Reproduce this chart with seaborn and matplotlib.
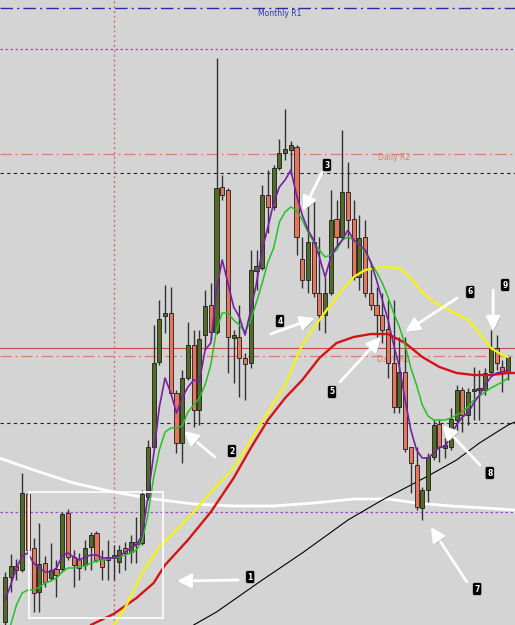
import numpy as np
import pandas as pd
import matplotlib
matplotlib.use("Agg")
import matplotlib.pyplot as plt
import matplotlib.patheffects as pe
from matplotlib.patches import Rectangle
import seaborn as sns

# ---------------- data (price in chart points) ----------------
opens = [3, 48, 59, 55, 131, 77, 33, 62, 47, 56, 56, 112, 68, 66, 60, 78, 92, 66, 65, 67,
         63, 77, 73, 83, 82, 128, 178, 263, 309, 312, 232, 182, 247, 280, 215, 290, 320, 293, 438, 435,
         287, 288, 267, 262, 354, 357, 430, 418, 457, 472, 475, 478, 366, 345, 383, 332, 310, 332, 406, 388,
         433, 406, 348, 388, 332, 320, 310, 296, 262, 218, 253, 178, 160, 117, 135, 168, 201, 177, 178, 205,
         235, 210, 234, 235, 235, 253, 277, 258, 253]
highs = [53, 71, 66, 152, 133, 87, 102, 69, 82, 65, 113, 116, 75, 72, 85, 93, 94, 75, 85, 80,
         80, 83, 90, 108, 135, 185, 300, 325, 340, 338, 235, 255, 303, 295, 295, 335, 342, 567, 450, 437,
         295, 320, 272, 375, 375, 440, 455, 460, 486, 516, 484, 480, 388, 428, 425, 388, 348, 435, 425, 495,
         463, 425, 410, 405, 362, 338, 332, 325, 325, 288, 288, 178, 178, 138, 172, 205, 205, 187, 217, 240,
         238, 237, 258, 255, 257, 295, 290, 265, 270]
lows = [0, 33, 45, 53, 73, 13, 13, 38, 45, 28, 53, 65, 38, 45, 55, 55, 63, 45, 45, 45,
        52, 55, 62, 62, 80, 125, 176, 260, 292, 230, 172, 162, 245, 198, 200, 275, 285, 291, 425, 252,
        242, 228, 225, 257, 335, 355, 392, 415, 455, 465, 450, 370, 337, 332, 328, 295, 292, 330, 378, 385,
        377, 345, 335, 328, 315, 288, 282, 247, 212, 212, 173, 132, 115, 105, 123, 165, 163, 167, 175, 193,
        193, 200, 205, 205, 230, 250, 255, 233, 245]
closes = [48, 59, 55, 132, 75, 32, 61, 43, 55, 50, 111, 68, 60, 57, 77, 90, 65, 58, 68, 70,
          75, 72, 83, 81, 131, 178, 262, 306, 312, 232, 182, 247, 280, 215, 286, 319, 293, 437, 430, 288,
          290, 267, 261, 355, 359, 430, 418, 457, 472, 476, 480, 388, 345, 383, 332, 310, 332, 405, 388, 433,
          405, 348, 387, 332, 320, 310, 295, 262, 218, 253, 176, 162, 118, 135, 168, 200, 178, 180, 206, 235,
          210, 233, 236, 237, 252, 277, 262, 252, 268]

# fast MA (purple), one value per candle 0..88
ma_fast = [25, 40, 57, 69, 72, 62, 57, 53, 53, 57, 69, 72, 68, 65, 68, 70, 70, 67, 67, 67,
           69, 73, 77, 80, 90, 128, 170, 218, 247, 232, 212, 227, 238, 245, 243, 275, 282, 335, 365, 342,
           318, 308, 290, 315, 342, 375, 398, 422, 438, 445, 455, 430, 410, 395, 385, 368, 348, 368, 378, 385,
           395, 385, 380, 375, 363, 345, 325, 305, 280, 258, 225, 195, 175, 167, 167, 172, 178, 178, 190, 200,
           208, 212, 222, 230, 240, 248, 252, 253, 255]
# medium MA (green), candles 1..88
ma_mid = [0, 20, 32, 35, 35, 38, 42, 44, 47, 53, 57, 57, 58, 59, 62, 64, 65, 66, 67, 68,
          70, 72, 75, 84, 110, 147, 175, 193, 197, 197, 199, 213, 220, 227, 240, 260, 295, 312, 312, 305,
          300, 293, 305, 323, 342, 363, 377, 403, 413, 418, 415, 405, 393, 383, 375, 368, 370, 375, 385, 388,
          385, 380, 373, 362, 353, 342, 328, 312, 298, 280, 257, 240, 220, 209, 205, 205, 205, 207, 210, 213,
          218, 225, 229, 233, 237, 240, 243, 247]
# slow MAs sampled at candle indices
yel_idx = [19, 21, 24, 27, 30, 33, 36, 40, 43, 46, 49, 52, 54, 56, 59, 61, 63, 66, 69, 71, 73, 75, 78, 81, 83, 85, 87, 88]
yel_val = [0, 17, 52, 78, 95, 113, 133, 157, 185, 213, 240, 280, 297, 313, 335, 348, 355, 358, 357, 347, 333, 323, 314, 305, 292, 277, 270, 268]
red_idx = [15, 19, 23, 26, 28, 32, 36, 40, 43, 46, 49, 52, 55, 58, 61, 64, 67, 70, 73, 76, 79, 82, 85, 88, 89.2]
red_val = [0, 11, 27, 42, 60, 85, 113, 147, 177, 205, 227, 245, 267, 282, 288, 291, 291, 282, 268, 258, 252, 250, 250, 252, 252]
blk_idx = [33, 37, 40, 45, 52, 60, 63, 66, 70, 74, 79, 83, 88, 89.2]
blk_val = [0, 13, 25, 45, 72, 105, 115, 125, 137, 149, 165, 182, 200, 203]
wht_idx = [-1, 5, 12, 19, 26, 33, 40, 47, 54, 61, 67, 72, 78, 84, 89.2]
wht_val = [167, 155, 142, 133, 126, 121, 119, 119, 122, 126, 126, 122, 119, 117, 115]

# pivot levels
level_names = ["Monthly R1", "", "Daily R2", "", "", "Daily R1", "", ""]
level_vals = [617, 576, 471, 452, 277, 269, 202, 113]

# annotation arrows: (tail_i, tail_p, head_i, head_p, label_i, label_p)
arrow_labels = ["1", "2", "3", "4", "5", "6", "7", "8", "9"]
arrow_tail = [(40.8, 45), (36.7, 168), (55.5, 453), (46.5, 291), (58.6, 243), (79.1, 327), (80.8, 43), (83.1, 160), (85.4, 335)]
arrow_head = [(30.1, 44), (31.3, 194), (52.1, 414), (54.2, 307), (65.8, 288), (70.0, 293), (74.5, 98), (76.5, 200), (85.4, 294)]
label_pos = [(42.9, 48), (39.7, 174), (56.3, 460), (48.1, 304), (57.2, 233), (81.4, 333), (82.6, 36), (84.8, 152), (87.5, 340)]

# ---------------- figure ----------------
sns.set_theme(style="white")
plt.rcParams['font.family'] = ['DejaVu Sans']

BG = '#d4d4d4'
fig = plt.figure(figsize=(5.15, 6.25), dpi=100)
fig.patch.set_facecolor(BG)
ax = fig.add_axes([0, 0, 1, 1])
ax.set_facecolor(BG)
ax.set_xlim(-0.875, 89.22)
ax.set_ylim(0, 625)
for s in ax.spines.values():
    s.set_visible(False)
ax.set_xticks([])
ax.set_yticks([])

dashdot = (0, (9, 3, 1.5, 3))
# levels
ax.axhline(level_vals[0], color='#2c2ca0', ls=dashdot, lw=1.0, zorder=1)
ax.axhline(level_vals[1], color='#9a4cc8', ls=(0, (2, 2)), lw=0.9, zorder=1)
ax.axhline(level_vals[2], color='#e07a6a', ls=dashdot, lw=0.9, zorder=1)
ax.axhline(level_vals[3], color='#222222', ls=(0, (3, 3)), lw=0.8, zorder=1)
ax.axhline(level_vals[4], color='#c84848', lw=0.8, zorder=1)
ax.axhline(level_vals[5], color='#e07a6a', ls=dashdot, lw=0.9, zorder=1)
ax.axhline(level_vals[6], color='#222222', ls=(0, (3, 3)), lw=0.8, zorder=1)
ax.axhline(level_vals[7], color='#9a4cc8', ls=(0, (2, 2)), lw=0.9, zorder=1)
ax.axvline(19.07, color='#d46a78', ls=(0, (1.5, 2)), lw=1.0, zorder=1)

ax.text(48.1, level_vals[0] - 5, level_names[0], color='#3434b0', fontsize=5.5,
        ha='center', va='center', zorder=1)
ax.text(68.1, level_vals[2] - 3, level_names[2], color='#e07a6a', fontsize=5.5,
        ha='center', va='center', zorder=1)
ax.text(67.9, level_vals[5] - 4, level_names[5], color='#e07a6a', fontsize=5.5,
        ha='center', va='center', zorder=1)

# white / black long MAs (behind candles)
sns.lineplot(x=wht_idx, y=wht_val, ax=ax, color='white', lw=2.0, zorder=2)
sns.lineplot(x=blk_idx, y=blk_val, ax=ax, color='black', lw=0.8, zorder=2)

# candles
o = np.array(opens, float); c = np.array(closes, float)
h = np.array(highs, float); l = np.array(lows, float)
idx = np.arange(len(o))
up = c >= o
ax.vlines(idx, l, h, color='#333333', lw=1.0, zorder=3)
body_bot = np.minimum(o, c)
body_h = np.maximum(np.abs(c - o), 1.8)
cols = np.where(up, '#536b26', '#e6755d')
ax.bar(idx, body_h, bottom=body_bot, width=0.72, color=cols, edgecolor='#1c1c1c',
       linewidth=0.6, zorder=4)

# moving averages on top
sns.lineplot(x=red_idx, y=red_val, ax=ax, color='#d41414', lw=1.7, zorder=5)
sns.lineplot(x=yel_idx, y=yel_val, ax=ax, color='#f2f21e', lw=1.7, zorder=5)
sns.lineplot(x=list(range(1, 89)), y=ma_mid, ax=ax, color='#22c222', lw=1.1, zorder=6)
sns.lineplot(x=list(range(0, 89)), y=ma_fast, ax=ax, color='#7a1fa8', lw=1.2, zorder=7)

# highlight box
ax.add_patch(Rectangle((4.2, 7), 23.4, 126, fill=False, ec='white', lw=1.2, zorder=8))

# arrows + labels
for lab, t, hd, lp in zip(arrow_labels, arrow_tail, arrow_head, label_pos):
    ann = ax.annotate('', xy=hd, xytext=t,
                      arrowprops=dict(arrowstyle='-|>,head_length=0.7,head_width=0.35',
                                      color='white', lw=2.0, shrinkA=0, shrinkB=0),
                      zorder=9)
    ann.arrow_patch.set_path_effects([pe.withSimplePatchShadow(offset=(1, -1),
                                                               shadow_rgbFace='#666666', alpha=0.6)])
    ax.text(lp[0], lp[1], lab, color='white', fontsize=5.5, fontweight='bold',
            ha='center', va='center', zorder=10,
            bbox=dict(boxstyle='round,pad=0.25', fc='black', ec='#cccccc', lw=0.5))

fig.savefig('out.png', dpi=100, facecolor=BG)
